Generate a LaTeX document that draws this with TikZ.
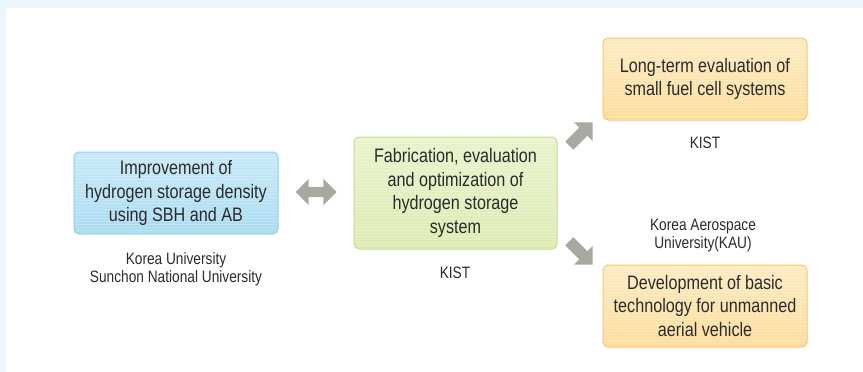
\documentclass[tikz,border=0pt]{standalone}
\usepackage{fontspec}
\setmainfont{Liberation Sans}[FakeStretch=0.83]
\usetikzlibrary{shapes.arrows}
\definecolor{bgblue}{HTML}{EEF6FD}
\definecolor{txt}{HTML}{2B2B2B}
\definecolor{bluetop}{HTML}{C8E9F7}
\definecolor{bluebot}{HTML}{AADBF1}
\definecolor{blueline}{HTML}{8ECFEB}
\definecolor{greentop}{HTML}{E9F3CC}
\definecolor{greenbot}{HTML}{DDEBB2}
\definecolor{greenline}{HTML}{C6DE8F}
\definecolor{orangetop}{HTML}{FDEBC2}
\definecolor{orangebot}{HTML}{FDDD9C}
\definecolor{orangeline}{HTML}{F8C76A}
\definecolor{arrowgray}{HTML}{A9A9A4}
\begin{document}
\begin{tikzpicture}[x=1pt,y=-1pt,
  box/.style={rounded corners=5pt, line width=1pt, minimum width=204pt,
    minimum height=82pt, align=center, text=txt, inner sep=0pt,
    font=\fontsize{19.5}{23.8}\selectfont,
    path picture={\foreach \k in {0,3,...,120}
      \draw[white,opacity=0.22,line width=0.9pt]
        ([yshift=-\k pt]path picture bounding box.north west) --
        ([yshift=-\k pt]path picture bounding box.north east);}},
  bluebox/.style={box, draw=blueline, top color=bluetop, bottom color=bluebot},
  greenbox/.style={box, draw=greenline, top color=greentop, bottom color=greenbot},
  orangebox/.style={box, draw=orangeline, top color=orangetop, bottom color=orangebot},
  lbl/.style={align=center, text=txt, inner sep=0pt, font=\fontsize{16.5}{18}\selectfont},
  darrow/.style={double arrow, fill=arrowgray, draw=none, minimum height=41pt,
    inner xsep=0pt, inner ysep=5pt, double arrow head extend=8pt},
  sarrow/.style={single arrow, fill=arrowgray, draw=none, minimum height=33pt,
    inner xsep=0pt, inner ysep=5.5pt, single arrow head extend=7.5pt}
]
\useasboundingbox (0,0) rectangle (863,372);
\fill[bgblue] (0,0) rectangle (863,372);
\fill[white] (6,8) rectangle (863,372);

\node[bluebox] (imp) at (176,193) {Improvement of\\hydrogen storage density\\using SBH and AB};
\node[greenbox, minimum width=203pt, minimum height=112pt] (fab) at (455.5,193)
  {Fabrication, evaluation\\and optimization of\\hydrogen storage\\system};
\node[orangebox] (lte) at (705,79) {Long-term evaluation of\\small fuel cell systems};
\node[orangebox] (dev) at (705,306) {Development of basic\\technology for unmanned\\aerial vehicle};

\node[lbl] (ku) at (176,269) {Korea University\\Sunchon National University};
\node[lbl] (kist1) at (455,273) {KIST};
\node[lbl] (kist2) at (705,143) {KIST};
\node[lbl] (kau) at (703,236) {Korea Aerospace\\University(KAU)};

\node[darrow] (da) at (316,192) {};
\node[sarrow, rotate=45] (ua) at (579,136) {};
\node[sarrow, rotate=-45] (dn) at (579,251) {};
\end{tikzpicture}
\end{document}
